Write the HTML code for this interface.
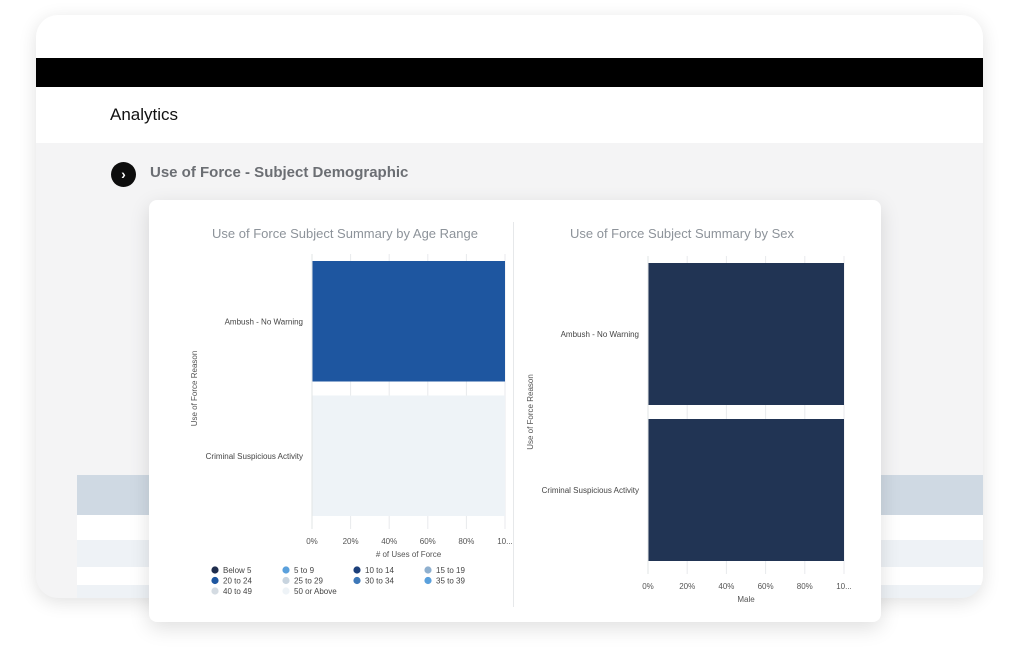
<!DOCTYPE html>
<html><head><meta charset="utf-8"><style>
body{margin:0;width:1018px;height:658px;background:#fff;position:relative;overflow:hidden;font-family:"Liberation Sans",sans-serif}
.abs{position:absolute}
</style></head><body>
<div class="abs" style="left:36px;top:15px;width:947px;height:583px;border-radius:22px;background:#f4f4f5;box-shadow:0 4px 18px rgba(0,0,0,0.12);overflow:hidden">
  <div class="abs" style="left:0;top:0;width:947px;height:43px;background:#fff"></div>
  <div class="abs" style="left:0;top:43px;width:947px;height:29px;background:#000"></div>
  <div class="abs" style="left:0;top:72px;width:947px;height:56px;background:#fff"></div>
  <div class="abs" style="left:74px;top:90px;font-size:17px;color:#111">Analytics</div>
  <div class="abs" style="left:75px;top:147px;width:25px;height:25px;border-radius:50%;background:#0d0d0d;color:#fff;font-size:14px;font-weight:bold;text-align:center;line-height:24px">›</div>
  <div class="abs" style="left:114px;top:149px;font-size:15px;font-weight:bold;color:#6b6e73">Use of Force - Subject Demographic</div>
  <div class="abs" style="left:41px;top:460px;width:906px;height:40px;background:#cfd9e3"></div>
  <div class="abs" style="left:41px;top:500px;width:906px;height:25px;background:#fff"></div>
  <div class="abs" style="left:41px;top:525px;width:906px;height:27px;background:#eef2f6"></div>
  <div class="abs" style="left:41px;top:552px;width:906px;height:18px;background:#fff"></div>
  <div class="abs" style="left:41px;top:570px;width:906px;height:13px;background:#eef2f6"></div>
</div>
<div class="abs" style="left:149px;top:200px;width:732px;height:422px;background:#fff;border-radius:8px;box-shadow:0 6px 20px rgba(0,0,0,0.13)"></div>
<div class="abs" style="left:513px;top:222px;width:1px;height:385px;background:#e6e8ea"></div>
<svg class="abs" style="left:0;top:0" width="1018" height="658" font-family="Liberation Sans, sans-serif">
<g id="left"></g><g id="right"></g>
</svg>
<script>
const ageCategories=["Ambush - No Warning","Criminal Suspicious Activity"];
const ageSeries=["Below 5","5 to 9","10 to 14","15 to 19","20 to 24","25 to 29","30 to 34","35 to 39","40 to 49","50 or Above"];
const ageColors=["#1f2d4d","#5aa0dc","#1c3f7a","#8fb0cf","#1e56a0","#c8d4df","#3e78b8","#5aa0dc","#d4dbe2","#eef3f7"];
const ageValues=[[0,0,0,0,100,0,0,0,0,0],[0,0,0,0,0,0,0,0,0,100]];
const sexCategories=["Ambush - No Warning","Criminal Suspicious Activity"];
const sexSeries=["Male"];
const sexColors=["#213454"];
const sexValues=[[100],[100]];
const tickLabels=["0%","20%","40%","60%","80%","10..."];
const tickVals=[0,20,40,60,80,100];
const NS="http://www.w3.org/2000/svg";
function mk(p,t,a,txt){const e=document.createElementNS(NS,t);for(const k in a)e.setAttribute(k,a[k]);if(txt!==undefined)e.textContent=txt;p.appendChild(e);return e;}
function chart(g,o,cats,series,colors,vals){
  const x=v=>o.x0+(o.x1-o.x0)*v/100;
  const bandH=(o.y1-o.y0)/cats.length;
  const ti=mk(g,"text",{x:o.tx,y:o.ty,"text-anchor":"middle","font-size":13,fill:"#8d939a"},o.title);
  
  tickVals.forEach((t,i)=>{
    const gl=mk(g,"line",{x1:x(t),x2:x(t),y1:o.y0,y2:o.y1+6,stroke:"#e8eaec"});
    
    const tl=mk(g,"text",{x:x(t),y:o.y1+21,"text-anchor":"middle","font-size":8,fill:"#555"},tickLabels[i]);
    
  });
  cats.forEach((c,ci)=>{
    const by=o.y0+ci*bandH+o.pad, bh=bandH-2*o.pad;
    let acc=0;
    vals[ci].forEach((v,si)=>{
      if(v<=0)return;
      const r=mk(g,"rect",{x:x(acc),y:by,width:x(acc+v)-x(acc),height:bh,fill:colors[si]});
      
      
      acc+=v;
    });
    const l=mk(g,"text",{x:o.x0-9,y:by+bh/2+3,"text-anchor":"end","font-size":8,fill:"#444"},c);
    
  });
  mk(g,"line",{x1:o.x0,x2:o.x0,y1:o.y0,y2:o.y1+6,stroke:"#e2e4e6"});
  const xt=mk(g,"text",{x:(o.x0+o.x1)/2,y:o.y1+34,"text-anchor":"middle","font-size":8,fill:"#555"},o.xtitle);
  
  const yt=mk(g,"text",{x:0,y:0,"text-anchor":"middle","font-size":8,fill:"#555",transform:`translate(${o.yx},${(o.y0+o.y1)/2}) rotate(-90)`},"Use of Force Reason");
  
}
chart(document.getElementById("left"),{x0:312,x1:505,y0:254,y1:523,pad:7,tx:345,ty:238,title:"Use of Force Subject Summary by Age Range",xtitle:"# of Uses of Force",yx:197},ageCategories,ageSeries,ageColors,ageValues);
chart(document.getElementById("right"),{x0:648,x1:844,y0:256,y1:568,pad:7,tx:682,ty:238,title:"Use of Force Subject Summary by Sex",xtitle:"Male",yx:533},sexCategories,sexSeries,sexColors,sexValues);
const lg=document.getElementById("left");
ageSeries.forEach((s,i)=>{
  const col=i%4,row=Math.floor(i/4);
  const cx=215+col*71,cy=570+row*10.5;
  const d=mk(lg,"circle",{cx:cx,cy:cy,r:3.6,fill:ageColors[i]});
  
  const t=mk(lg,"text",{x:cx+8,y:cy+3,"font-size":8,fill:"#444"},s);
  
});
</script>
</body></html>
